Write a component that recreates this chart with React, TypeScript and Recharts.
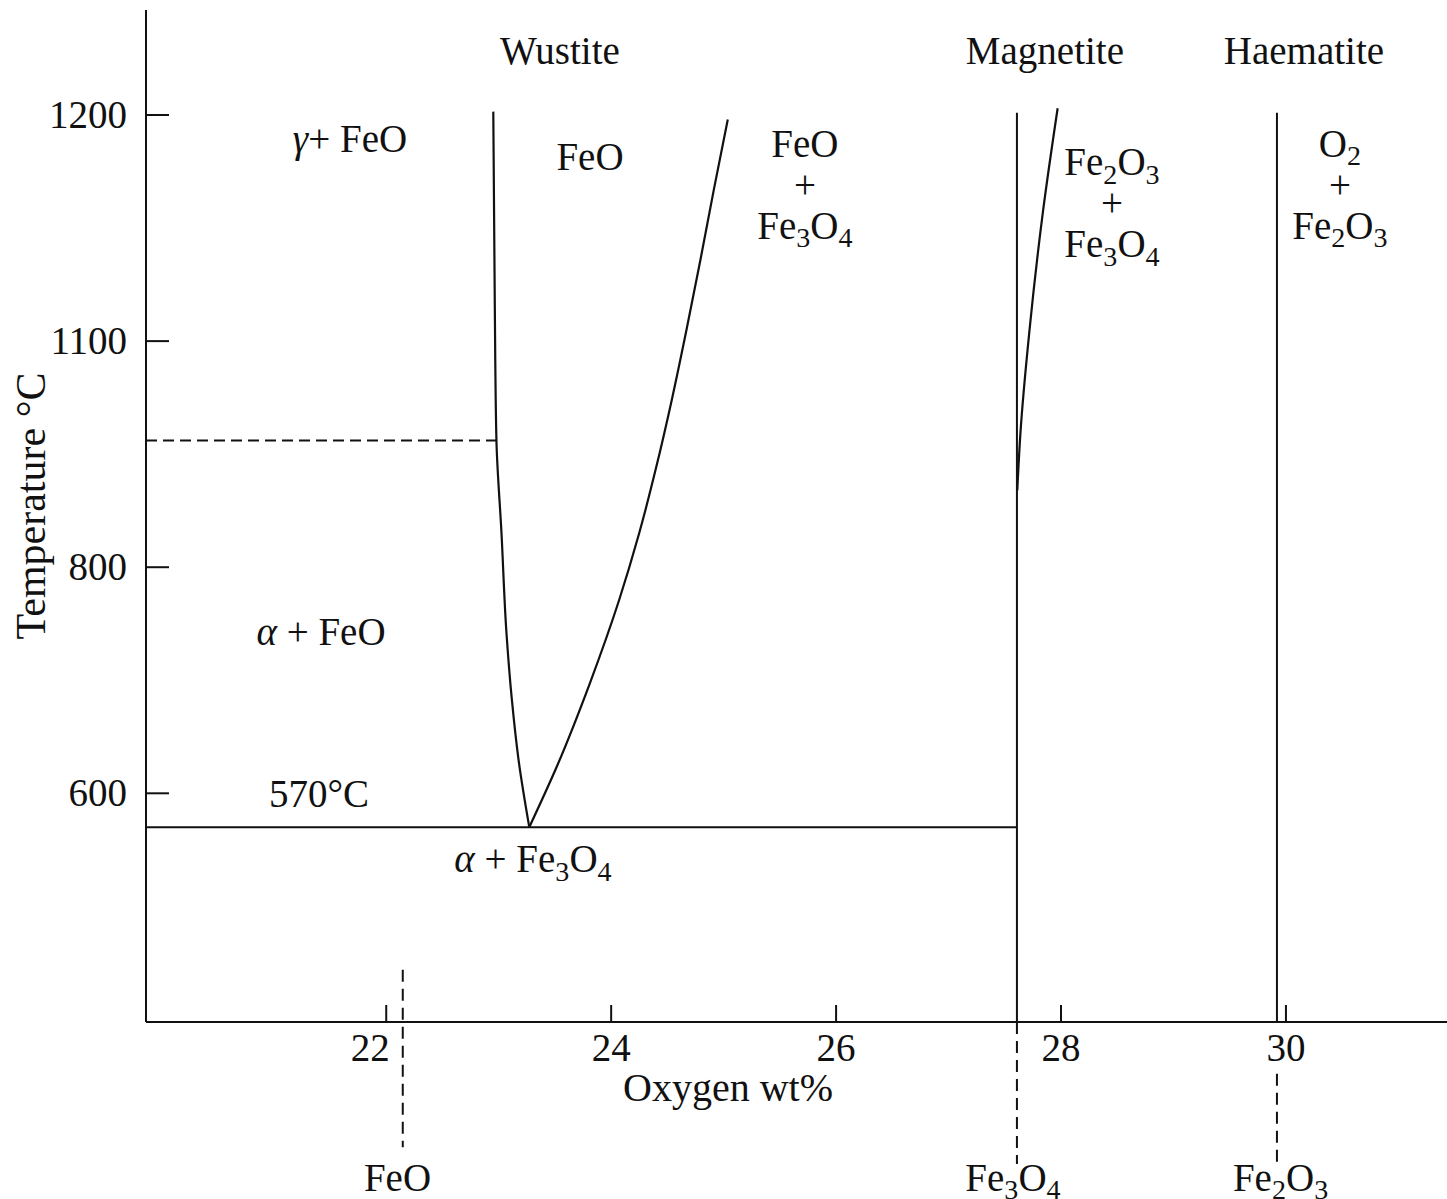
import { ComposedChart, Line, XAxis, YAxis, ReferenceLine, ReferenceDot } from 'recharts'

// axis ranges and ticks
const X_DOMAIN = [19.864, 31.432]
const Y_DOMAIN = [397.7, 1292.9]
const X_TICKS = [22, 24, 26, 28, 30]
const X_TICK_LABELS = ['22', '24', '26', '28', '30']
const Y_TICKS = [600, 800, 1000, 1200]
// the printed figure labels the third tick "1100"
const Y_TICK_LABELS = ['600', '800', '1100', '1200']

// phase boundaries (oxygen wt%, temperature °C)
const WUSTITE_LEFT = [
  { x: 23.272, t: 570 },
  { x: 23.176, t: 630 },
  { x: 23.117, t: 683 },
  { x: 23.069, t: 742 },
  { x: 23.025, t: 830 },
  { x: 22.98, t: 912 },
  { x: 22.965, t: 1036 },
  { x: 22.952, t: 1203 },
]
const WUSTITE_RIGHT = [
  { x: 23.272, t: 570 },
  { x: 23.514, t: 623 },
  { x: 23.813, t: 698 },
  { x: 24.071, t: 771 },
  { x: 24.249, t: 830 },
  { x: 24.402, t: 889 },
  { x: 24.539, t: 948 },
  { x: 24.67, t: 1010 },
  { x: 24.794, t: 1072 },
  { x: 24.913, t: 1134 },
  { x: 25.037, t: 1196 },
]
const MAGNETITE_RIGHT = [
  { x: 27.611, t: 868 },
  { x: 27.64, t: 920 },
  { x: 27.72, t: 1010 },
  { x: 27.84, t: 1115 },
  { x: 27.97, t: 1206 },
]

// straight boundaries
const ALPHA_GAMMA = { t: 912, xEnd: 22.98 }
const EUTECTOID = { t: 570, xEnd: 27.608 }
const PHASE_VERTICALS = [
  { x: 27.608, top: 1202, bottom: 397.7 },
  { x: 29.92, top: 1202, bottom: 397.7 },
]
const COMPOSITION_MARKS = [
  { x: 22.147, top: 444, bottom: 287 },
  { x: 27.608, top: 397.7, bottom: 272 },
  { x: 29.92, top: 352, bottom: 270 },
]

const LABELS = [
  { x: 23.545, t: 1245, lines: ['Wustite'] },
  { x: 27.857, t: 1245, lines: ['Magnetite'] },
  { x: 30.16, t: 1245, lines: ['Haematite'] },
  { x: 21.678, t: 1167, lines: ['γ+ FeO'] },
  { x: 23.812, t: 1151, lines: ['FeO'] },
  { x: 25.723, t: 1163, lines: ['FeO', '+', 'Fe3O4'] },
  { x: 28.453, t: 1147, lines: ['Fe2O3', '+', 'Fe3O4'] },
  { x: 30.48, t: 1163, lines: ['O2', '+', 'Fe2O3'] },
  { x: 21.42, t: 731, lines: ['α + FeO'] },
  { x: 21.402, t: 588, lines: ['570°C'] },
  { x: 23.305, t: 530, lines: ['α + Fe3O4'] },
  { x: 22.1, t: 248.5, lines: ['FeO'] },
  { x: 27.573, t: 248.5, lines: ['Fe3O4'] },
  { x: 29.952, t: 248.5, lines: ['Fe2O3'] },
]

const INK = '#111'
const SERIF = '"Liberation Serif", "Times New Roman", serif'
const FONT = 39
const LINE_GAP = 41
// the "22" is printed left of the FeO composition line
const TICK_LABEL_NUDGE: Record<number, number> = { 22: -16 }

type Seg = { text: string; kind: 'normal' | 'sub' | 'greek' }

function splitFormula(text: string): Seg[] {
  const segs: Seg[] = []
  let prevLetter = false
  let prevSub = false
  for (const c of text) {
    const digit = /\d/.test(c)
    const kind: Seg['kind'] = digit && (prevLetter || prevSub) ? 'sub' : /[α-ω]/.test(c) ? 'greek' : 'normal'
    const last = segs[segs.length - 1]
    if (last && last.kind === kind) last.text += c
    else segs.push({ text: c, kind })
    prevLetter = /[A-Za-z]/.test(c)
    prevSub = kind === 'sub'
  }
  return segs
}

function RichText({ x, y, text, size = FONT }: { x: number; y: number; text: string; size?: number }) {
  const shift = size * 0.22
  let shifted = false
  return (
    <text x={x} y={y} textAnchor="middle" fontFamily={SERIF} fontSize={size} fill={INK}>
      {splitFormula(text).map((s, i) => {
        let dy: number | undefined
        if (s.kind === 'sub' && !shifted) { dy = shift; shifted = true }
        else if (s.kind !== 'sub' && shifted) { dy = -shift; shifted = false }
        return (
          <tspan
            key={i}
            dy={dy}
            fontSize={s.kind === 'sub' ? size * 0.72 : undefined}
            fontStyle={s.kind === 'greek' ? 'italic' : undefined}
          >
            {s.text}
          </tspan>
        )
      })}
    </text>
  )
}

const YTick = (props: any) => {
  const { x, y, payload } = props
  const i = Y_TICKS.indexOf(payload.value)
  return (
    <g>
      <line x1={x} x2={x + 23} y1={y} y2={y} stroke={INK} strokeWidth={2} />
      <text x={x - 19} y={y + 13} textAnchor="end" fontFamily={SERIF} fontSize={FONT} fill={INK}>
        {Y_TICK_LABELS[i]}
      </text>
    </g>
  )
}

const XTick = (props: any) => {
  const { x, y, payload } = props
  const i = X_TICKS.indexOf(payload.value)
  const nudge = TICK_LABEL_NUDGE[payload.value] ?? 0
  return (
    <g>
      <line x1={x} x2={x} y1={y} y2={y - 17} stroke={INK} strokeWidth={2} />
      <text x={x + nudge} y={y + 39} textAnchor="middle" fontFamily={SERIF} fontSize={FONT} fill={INK}>
        {X_TICK_LABELS[i]}
      </text>
    </g>
  )
}

const axisLine = { stroke: INK, strokeWidth: 2 }
const curve = { stroke: INK, strokeWidth: 2.2, dot: false, activeDot: false, isAnimationActive: false, type: 'monotoneY' as const }

export default function App() {
  return (
    <div style={{ position: 'absolute', left: 0, top: 0, background: '#fff' }}>
      <ComposedChart width={1447} height={1199} margin={{ top: 10, right: 0, bottom: 0, left: 0 }}>
        <XAxis
          dataKey="x"
          type="number"
          domain={X_DOMAIN}
          allowDataOverflow
          ticks={X_TICKS}
          interval={0}
          height={177}
          axisLine={axisLine}
          tickLine={false}
          tickSize={0}
          tickMargin={0}
          tick={(p: any) => <XTick {...p} />}
          label={{
            content: (p: any) => (
              <text
                x={p.viewBox.x + 582}
                y={p.viewBox.y + 79}
                textAnchor="middle"
                fontFamily={SERIF}
                fontSize={40}
                fill={INK}
              >
                Oxygen wt%
              </text>
            ),
          }}
        />
        <XAxis
          xAxisId="top"
          orientation="top"
          dataKey="x"
          type="number"
          domain={X_DOMAIN}
          allowDataOverflow
          height={0}
          axisLine={axisLine}
          tick={false}
          tickLine={false}
        />
        <YAxis
          type="number"
          domain={Y_DOMAIN}
          allowDataOverflow
          ticks={Y_TICKS}
          interval={0}
          width={146}
          axisLine={axisLine}
          tickLine={false}
          tickSize={0}
          tickMargin={0}
          tick={(p: any) => <YTick {...p} />}
          label={{
            content: (p: any) => {
              const cx = p.viewBox.x + 45
              const cy = p.viewBox.y + p.viewBox.height / 2 - 10
              return (
                <text
                  x={cx}
                  y={cy}
                  transform={`rotate(-90, ${cx}, ${cy})`}
                  textAnchor="middle"
                  fontFamily={SERIF}
                  fontSize={42}
                  fill={INK}
                >
                  Temperature °C
                </text>
              )
            },
          }}
        />

        <ReferenceLine
          segment={[{ x: X_DOMAIN[0], y: ALPHA_GAMMA.t }, { x: ALPHA_GAMMA.xEnd, y: ALPHA_GAMMA.t }]}
          stroke={INK}
          strokeWidth={2}
          strokeDasharray="11 6"
          ifOverflow="visible"
        />
        <ReferenceLine
          segment={[{ x: X_DOMAIN[0], y: EUTECTOID.t }, { x: EUTECTOID.xEnd, y: EUTECTOID.t }]}
          stroke={INK}
          strokeWidth={2}
          ifOverflow="visible"
        />
        {PHASE_VERTICALS.map((v, i) => (
          <ReferenceLine
            key={`v${i}`}
            segment={[{ x: v.x, y: v.top }, { x: v.x, y: v.bottom }]}
            stroke={INK}
            strokeWidth={2}
            ifOverflow="visible"
          />
        ))}
        {COMPOSITION_MARKS.map((v, i) => (
          <ReferenceLine
            key={`c${i}`}
            segment={[{ x: v.x, y: v.top }, { x: v.x, y: v.bottom }]}
            stroke={INK}
            strokeWidth={2}
            strokeDasharray="12 7"
            ifOverflow="visible"
          />
        ))}

        <Line data={WUSTITE_LEFT} dataKey="t" {...curve} />
        <Line data={WUSTITE_RIGHT} dataKey="t" {...curve} />
        <Line data={MAGNETITE_RIGHT} dataKey="t" {...curve} />

        {LABELS.map((l, i) => (
          <ReferenceDot
            key={`l${i}`}
            x={l.x}
            y={l.t}
            r={0}
            ifOverflow="visible"
            shape={(p: any) => (
              <g>
                {l.lines.map((line, j) => (
                  <RichText key={j} x={p.cx} y={p.cy + j * LINE_GAP} text={line} />
                ))}
              </g>
            )}
          />
        ))}
      </ComposedChart>
    </div>
  )
}
